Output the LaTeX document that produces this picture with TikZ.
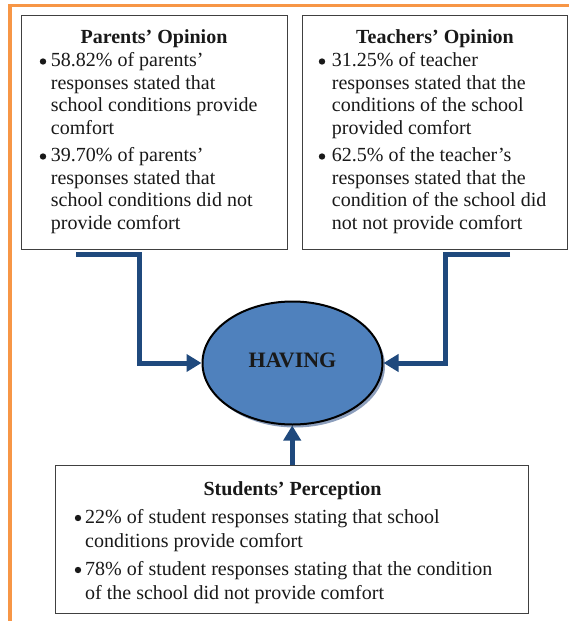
\documentclass[tikz,border=0pt]{standalone}
\usepackage{fontspec}
\setmainfont{Liberation Serif}
\usetikzlibrary{arrows.meta,shapes.geometric,shadows}
\definecolor{frameor}{RGB}{247,150,70}
\definecolor{boxgray}{RGB}{64,64,64}
\definecolor{connblue}{RGB}{31,73,125}
\definecolor{ellblue}{RGB}{79,129,189}
\definecolor{shadowc}{RGB}{140,158,188}
\definecolor{textc}{RGB}{25,25,25}
\tikzset{
  infobox/.style={draw=boxgray, line width=1.4pt, fill=white, anchor=north west, inner sep=0pt},
  ttl/.style={anchor=base, inner sep=0pt, text=textc, font=\bfseries\fontsize{20}{22}\selectfont},
  txt/.style={anchor=base west, inner sep=0pt, text=textc, font=\fontsize{20}{22.6}\selectfont},
  txtb/.style={anchor=base west, inner sep=0pt, text=textc, font=\fontsize{20}{24}\selectfont},
  conn/.style={draw=connblue, line width=5pt, line join=miter, -{Triangle[length=15pt,width=17pt]}},
  bul/.style={fill=textc},
}
\begin{document}
\begin{tikzpicture}[x=1pt,y=-1pt]
\useasboundingbox (0,0) rectangle (568,621);
% orange frame
\draw[frameor, line width=3.6pt] (570,5.5) -- (10,5.5) -- (10,623);
% boxes
\node[infobox, minimum width=266pt, minimum height=234pt] (pbox) at (21,15) {};
\node[infobox, minimum width=265pt, minimum height=234pt] (tbox) at (302,15) {};
\node[infobox, minimum width=473pt, minimum height=148pt] (sbox) at (55,465) {};
% parents
\node[ttl] (ptitle) at (154,43.5) {Parents’ Opinion};
\fill[bul] (43,61.5) circle[radius=3.2pt];
\node[txt] (p1) at (50.7,66.5) {\vtop{\hbox{58.82\% of parents’}\hbox{responses stated that}\hbox{school conditions provide}\hbox{comfort}}};
\fill[bul] (43,156.5) circle[radius=3.2pt];
\node[txt] (p2) at (50.7,161.5) {\vtop{\hbox{39.70\% of parents’}\hbox{responses stated that}\hbox{school conditions did not}\hbox{provide comfort}}};
% teachers
\node[ttl] (ttitle) at (435,43.5) {Teachers’ Opinion};
\fill[bul] (322,61.5) circle[radius=3.2pt];
\node[txt] (t1) at (331.7,66.5) {\vtop{\hbox{31.25\% of teacher}\hbox{responses stated that the}\hbox{conditions of the school}\hbox{provided comfort}}};
\fill[bul] (322,156.5) circle[radius=3.2pt];
\node[txt] (t2) at (331.7,161.5) {\vtop{\hbox{62.5\% of the teacher’s}\hbox{responses stated that the}\hbox{condition of the school did}\hbox{not not provide comfort}}};
% students
\node[ttl] (stitle) at (292.5,495) {Students’ Perception};
\fill[bul] (78,518) circle[radius=3.2pt];
\node[txtb] (s1) at (85,523) {\vtop{\hbox{22\% of student responses stating that school}\hbox{conditions provide comfort}}};
\fill[bul] (78,570) circle[radius=3.2pt];
\node[txtb] (s2) at (85,575) {\vtop{\hbox{78\% of student responses stating that the condition}\hbox{of the school did not provide comfort}}};
% central ellipse
\node[ellipse, draw=black, line width=2pt, fill=ellblue, minimum width=180pt, minimum height=123pt, inner sep=0pt,
      drop shadow={shadow xshift=2.5pt, shadow yshift=-3pt, fill=shadowc, opacity=1},
      text=textc, font=\bfseries\fontsize{22}{22}\selectfont, text depth=5pt] (hav) at (292.5,363) {HAVING};
% connectors
\coordinate (lstart) at (76,254.5);
\coordinate (lbend) at (139.5,363);
\coordinate (rstart) at (510,254.5);
\coordinate (rbend) at (445.5,363);
\draw[conn] (lstart) -| (lbend) -- (hav.west);
\draw[conn] (rstart) -| (rbend) -- (hav.east);
\draw[conn] (sbox.north) -- (sbox.north |- hav.south);
\end{tikzpicture}
\end{document}
